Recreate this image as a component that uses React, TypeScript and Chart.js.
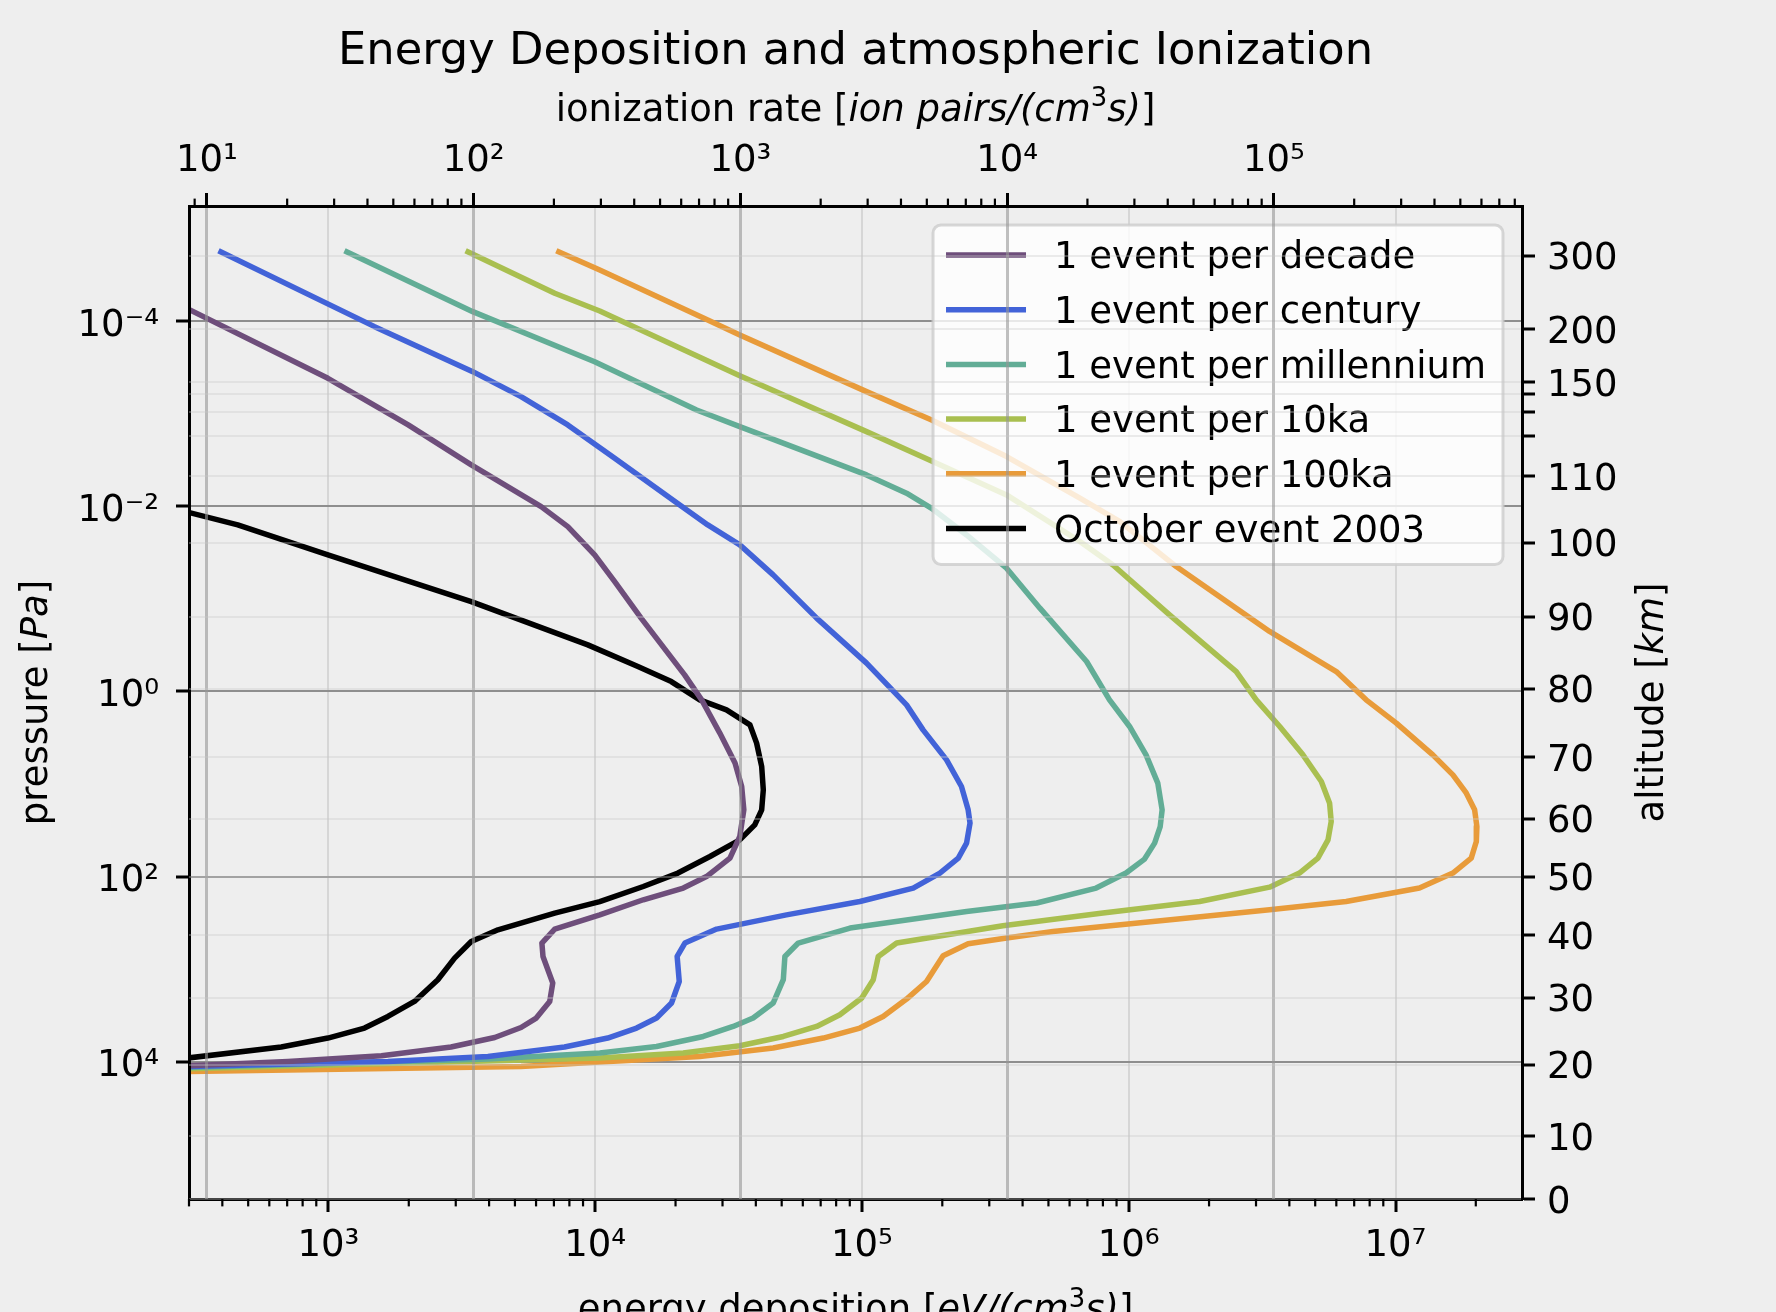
import React, { useEffect, useRef } from 'react';
import { Chart, registerables } from 'chart.js';

Chart.register(...registerables);

const FONT_FAMILY = '"DejaVu Sans", sans-serif';
const FONT_CSS = '"DejaVu Sans"';

// ---------- series ----------
const seriesLabels = [
  '1 event per decade',
  '1 event per century',
  '1 event per millennium',
  '1 event per 10ka',
  '1 event per 100ka',
  'October event 2003',
];
const seriesColors = ['#6e4e7b', '#4263d8', '#62ad96', '#a9bf50', '#e89b3a', '#000000'];

const decadeEnergy = [107, 297, 995, 1990, 3430, 6270, 7890, 9950, 11830, 14860, 21630, 25060, 29310, 33420, 35400, 36060, 34830, 31990, 26120, 21380, 15140, 10400, 7050, 6310, 6370, 6930, 6750, 6010, 5270, 4200, 2880, 1580, 705, 297, 139];
const decadePressure = [1.73e-5, 7.38e-5, 4.14e-4, 1.32e-3, 3.57e-3, 1.007e-2, 1.656e-2, 3.35e-2, 6.5e-2, 0.1614, 0.662, 1.233, 2.818, 5.94, 10.64, 19.01, 36.9, 63.1, 100, 133, 178, 259, 369, 522, 729, 1413, 2234, 3373, 4266, 5470, 6934, 8610, 9930, 11040, 11610];

const centuryEnergy = [387, 1489, 3475, 5270, 7890, 11830, 20750, 26420, 34830, 46450, 67610, 104000, 146900, 169400, 207500, 236000, 250000, 254100, 246600, 229600, 195900, 155600, 98200, 52120, 28510, 21680, 20280, 20650, 19320, 16980, 14290, 11140, 7670, 3960, 1670, 297, 139];
const centuryPressure = [1.734e-5, 1.146e-4, 3.51e-4, 6.53e-4, 1.32e-3, 3.03e-3, 9.66e-3, 1.589e-2, 2.61e-2, 5.51e-2, 0.1614, 0.494, 1.396, 2.6, 5.48, 10.64, 19.01, 26.4, 43.5, 63.1, 91.6, 133, 186, 259, 369, 522, 729, 1358, 2323, 3373, 4325, 5546, 6934, 8770, 9930, 11250, 11610];

const millenniumEnergy = [1148, 3475, 9950, 23990, 34830, 104000, 146900, 182400, 246600, 348300, 464500, 695000, 847000, 1.007e6, 1.161e6, 1.285e6, 1.334e6, 1.312e6, 1.25e6, 1.146e6, 977000, 755000, 451900, 246600, 90200, 57680, 51400, 50700, 46450, 39080, 32890, 25410, 16980, 10400, 3960, 297, 139];
const millenniumPressure = [1.734e-5, 7.89e-5, 2.74e-4, 9.1e-4, 1.377e-3, 4.58e-3, 7.22e-3, 1.05e-2, 2.04e-2, 4.66e-2, 0.126, 0.475, 1.233, 2.39, 4.84, 9.77, 19.01, 28.8, 43.5, 64.7, 91.6, 133, 193, 238, 360, 522, 729, 1300, 2323, 3373, 4159, 5333, 6839, 8050, 9350, 11530, 11910];

const tenKaEnergy = [3266, 7050, 10400, 34830, 104000, 182400, 348300, 656000, 873000, 1.422e6, 2.529e6, 3.006e6, 3.681e6, 4.498e6, 5.272e6, 5.662e6, 5.741e6, 5.585e6, 5.117e6, 4.365e6, 3.373e6, 1.845e6, 800000, 337300, 134900, 115100, 110200, 99800, 82600, 67610, 50700, 34830, 21380, 10400, 297, 139];
const tenKaPressure = [1.734e-5, 5.0e-5, 7.76e-5, 3.88e-4, 1.56e-3, 3.24e-3, 7.53e-3, 2.4e-2, 4.3e-2, 0.149, 0.61, 1.233, 2.39, 4.84, 9.4, 16.1, 25.4, 40.1, 63.1, 91.6, 130, 186, 248, 340, 522, 729, 1300, 2051, 3105, 4159, 5333, 6714, 8050, 9120, 11910, 12190];

const hundredKaEnergy = [7145, 10400, 26420, 34830, 104000, 182400, 348300, 656000, 927000, 1.507e6, 3.373e6, 5.998e6, 7.762e6, 1.007e7, 1.38e7, 1.641e7, 1.841e7, 1.98e7, 2.019e7, 2.009e7, 1.923e7, 1.641e7, 1.23e7, 6.531e6, 3.373e6, 1.897e6, 520000, 348300, 250000, 201400, 174600, 146900, 120000, 98200, 71610, 46450, 24660, 10400, 5270, 297, 139];
const hundredKaPressure = [1.734e-5, 2.8e-5, 9.7e-5, 1.41e-4, 5.77e-4, 1.167e-3, 2.9e-3, 8.17e-3, 1.46e-2, 4.48e-2, 0.225, 0.61, 1.233, 2.2, 4.84, 7.96, 12.5, 19.0, 28.8, 41.8, 63.1, 91.6, 133, 186, 228, 270, 392, 461, 532, 716, 1358, 2104, 3243, 4325, 5546, 7112, 8770, 10070, 11250, 12740, 12900];

const octoberEnergy = [139, 297, 457, 995, 3430, 9380, 14450, 19280, 24660, 31050, 38020, 40270, 42070, 42660, 42070, 39630, 34830, 26920, 20420, 15140, 10400, 7050, 4320, 3430, 2970, 2570, 2100, 1670, 1365, 995, 665, 297, 139];
const octoberPressure = [6.65e-3, 1.159e-2, 1.589e-2, 3.35e-2, 0.107, 0.314, 0.538, 0.782, 1.233, 1.581, 2.296, 3.614, 6.47, 11.56, 19.01, 27.6, 40.1, 60.7, 91.6, 128, 186, 248, 376, 502, 759, 1300, 2234, 3243, 4325, 5546, 6934, 9120, 10260];

const seriesEnergy = [decadeEnergy, centuryEnergy, millenniumEnergy, tenKaEnergy, hundredKaEnergy, octoberEnergy];
const seriesPressure = [decadePressure, centuryPressure, millenniumPressure, tenKaPressure, hundredKaPressure, octoberPressure];

// ---------- axes ----------
const energyMin = 300;
const energyMax = 2.98e7;
const eVPerIonPair = 35;
const pressureMin = 5.7e-6;
const pressureMax = 3.04e5;

const energyMajorTicks = [1e3, 1e4, 1e5, 1e6, 1e7];
const energyTickLabels = ['10³', '10⁴', '10⁵', '10⁶', '10⁷'];
const ionMajorTicks = [1e1, 1e2, 1e3, 1e4, 1e5];
const ionTickLabels = ['10¹', '10²', '10³', '10⁴', '10⁵'];
const pressureTicks = [1e-4, 1e-2, 1, 1e2, 1e4];
const pressureTickLabels = ['10⁻⁴', '10⁻²', '10⁰', '10²', '10⁴'];

const altitudeTicks = [300, 200, 150, 140, 130, 120, 110, 100, 90, 80, 70, 60, 50, 40, 30, 20, 10, 0];
const altitudeTickLabels = ['300', '200', '150', '', '', '', '110', '100', '90', '80', '70', '60', '50', '40', '30', '20', '10', '0'];
const altitudePressures = [1.954e-5, 1.23e-4, 4.59e-4, 6.11e-4, 9.57e-4, 1.738e-3, 4.7e-3, 2.48e-2, 0.156, 0.938, 5.15, 23.8, 100.5, 430, 2037, 10770, 63800, 3.04e5];

const titleText = 'Energy Deposition and atmospheric Ionization';

type Run = { text: string; italic?: boolean; sup?: boolean };
const topAxisTitle: Run[] = [
  { text: 'ionization rate [' },
  { text: 'ion pairs/(cm', italic: true },
  { text: '3', sup: true },
  { text: 's)', italic: true },
  { text: ']' },
];
const bottomAxisTitle: Run[] = [
  { text: 'energy deposition [' },
  { text: 'eV/(cm', italic: true },
  { text: '3', sup: true },
  { text: 's)', italic: true },
  { text: ']' },
];
const leftAxisTitle: Run[] = [{ text: 'pressure [' }, { text: 'Pa', italic: true }, { text: ']' }];
const rightAxisTitle: Run[] = [{ text: 'altitude [' }, { text: 'km', italic: true }, { text: ']' }];

// ---------- helpers ----------
function makeLogTicks(min: number, max: number) {
  const out: { value: number; major: boolean }[] = [];
  const e0 = Math.floor(Math.log10(min));
  const e1 = Math.ceil(Math.log10(max));
  for (let e = e0; e <= e1; e++) {
    for (let m = 1; m <= 9; m++) {
      const v = m * Math.pow(10, e);
      if (v >= min * 0.99999 && v <= max * 1.00001) out.push({ value: v, major: m === 1 });
    }
  }
  return out;
}

function labelFromList(v: number, values: number[], labels: string[]) {
  const idx = values.findIndex((m) => Math.abs(Math.log10(m) - Math.log10(v)) < 1e-6);
  return idx >= 0 ? labels[idx] : '';
}

function drawRuns(ctx: CanvasRenderingContext2D, runs: Run[], cx: number, baseline: number, size: number) {
  const fontFor = (r: Run) => `${r.italic ? 'italic ' : ''}${r.sup ? size * 0.7 : size}px ${FONT_CSS}`;
  let total = 0;
  const widths: number[] = [];
  for (const r of runs) {
    ctx.font = fontFor(r);
    const w = ctx.measureText(r.text).width;
    widths.push(w);
    total += w;
  }
  let x = cx - total / 2;
  ctx.textAlign = 'left';
  ctx.textBaseline = 'alphabetic';
  runs.forEach((r, i) => {
    ctx.font = fontFor(r);
    ctx.fillText(r.text, x, baseline - (r.sup ? size * 0.38 : 0));
    x += widths[i];
  });
}

const TICK_FONT = { family: FONT_FAMILY, size: 37 };
const TRANSPARENT = 'rgba(0,0,0,0)';

const backgroundPlugin = {
  id: 'figureBackground',
  beforeDraw(chart: any) {
    const { ctx, width, height } = chart;
    ctx.save();
    ctx.fillStyle = '#eeeeee';
    ctx.fillRect(0, 0, width, height);
    ctx.restore();
  },
};

const legendPlugin = {
  id: 'boxLegend',
  afterDatasetsDraw(chart: any) {
    const { ctx, chartArea } = chart;
    const datasets = chart.data.datasets;
    ctx.save();
    ctx.font = `37px ${FONT_CSS}`;
    const maxW = Math.max(...datasets.map((d: any) => ctx.measureText(d.label).width));
    const rowH = 54.7;
    const w = 121 + maxW + 17;
    const h = 30 + rowH * (datasets.length - 1) + 36;
    const x0 = chartArea.right - 19 - w;
    const y0 = chartArea.top + 19;
    ctx.beginPath();
    ctx.roundRect(x0, y0, w, h, 8);
    ctx.fillStyle = 'rgba(255,255,255,0.8)';
    ctx.fill();
    ctx.strokeStyle = 'rgba(204,204,204,0.8)';
    ctx.lineWidth = 3;
    ctx.stroke();
    datasets.forEach((d: any, i: number) => {
      const cy = y0 + 30 + i * rowH;
      ctx.strokeStyle = d.borderColor;
      ctx.lineWidth = 5.5;
      ctx.lineCap = 'butt';
      ctx.beginPath();
      ctx.moveTo(x0 + 13, cy);
      ctx.lineTo(x0 + 93, cy);
      ctx.stroke();
      ctx.fillStyle = '#000';
      ctx.textAlign = 'left';
      ctx.textBaseline = 'alphabetic';
      ctx.fillText(d.label, x0 + 121, cy + 13.3);
    });
    ctx.restore();
  },
};

const decorPlugin = {
  id: 'decor',
  afterDraw(chart: any) {
    const { ctx, chartArea } = chart;
    const { x, x2 } = chart.scales;
    ctx.save();
    // minor tick marks
    ctx.strokeStyle = '#000';
    ctx.lineWidth = 2.2;
    const pairs: [any, number, number][] = [
      [x, chartArea.bottom, 1],
      [x2, chartArea.top, -1],
    ];
    for (const [scale, edge, dir] of pairs) {
      for (const t of scale.ticks) {
        if (t.major) continue;
        const px = scale.getPixelForValue(t.value);
        ctx.beginPath();
        ctx.moveTo(px, edge);
        ctx.lineTo(px, edge + dir * 7.4);
        ctx.stroke();
      }
    }
    // titles
    ctx.fillStyle = '#000';
    const cx = (chartArea.left + chartArea.right) / 2;
    const cy = (chartArea.top + chartArea.bottom) / 2;
    drawRuns(ctx, [{ text: titleText }], cx, chartArea.top - 142.5, 44.8);
    drawRuns(ctx, topAxisTitle, cx, chartArea.top - 85.5, 37);
    drawRuns(ctx, bottomAxisTitle, cx, chartArea.bottom + 122, 37);
    ctx.save();
    ctx.translate(chartArea.left - 142.3, cy);
    ctx.rotate(-Math.PI / 2);
    drawRuns(ctx, leftAxisTitle, 0, 0, 37);
    ctx.restore();
    ctx.save();
    ctx.translate(chartArea.right + 141, cy);
    ctx.rotate(-Math.PI / 2);
    drawRuns(ctx, rightAxisTitle, 0, 0, 37);
    ctx.restore();
    ctx.restore();
  },
};

export default function App() {
  const canvasRef = useRef<HTMLCanvasElement | null>(null);

  useEffect(() => {
    const canvas = canvasRef.current;
    if (!canvas) return;

    const datasets = seriesLabels.map((label, i) => ({
      label,
      data: seriesEnergy[i].map((e, j) => ({ x: e, y: seriesPressure[i][j] })),
      borderColor: seriesColors[i],
      backgroundColor: seriesColors[i],
      borderWidth: 5.5,
      pointRadius: 0,
      showLine: true,
      tension: 0,
      fill: false,
      clip: 0,
      borderJoinStyle: 'round' as const,
      borderCapStyle: 'butt' as const,
      xAxisID: 'x',
      yAxisID: 'y',
    }));

    const chart = new Chart(canvas, {
      type: 'scatter',
      data: { datasets },
      plugins: [backgroundPlugin, legendPlugin, decorPlugin],
      options: {
        responsive: false,
        devicePixelRatio: 1,
        animation: false,
        events: [],
        layout: { padding: 0 },
        plugins: {
          legend: { display: false },
          tooltip: { enabled: false },
          title: { display: false },
        },
        scales: {
          x: {
            type: 'logarithmic',
            position: 'bottom',
            min: energyMin,
            max: energyMax,
            afterBuildTicks: (s: any) => {
              s.ticks = makeLogTicks(s.min, s.max);
            },
            afterFit: (s: any) => {
              s.height = 113;
            },
            ticks: {
              autoSkip: false,
              maxRotation: 0,
              minRotation: 0,
              padding: 12,
              color: '#000',
              font: TICK_FONT,
              callback: (v: any, i: number, t: any[]) =>
                t[i] && t[i].major ? labelFromList(Number(v), energyMajorTicks, energyTickLabels) : '',
            },
            grid: {
              z: -1,
              lineWidth: 2,
              color: (c: any) => (c.tick && c.tick.major ? '#d6d6d6' : TRANSPARENT),
              tickLength: 13,
              tickWidth: 3,
              tickColor: (c: any) => (c.tick && c.tick.major ? '#000' : TRANSPARENT),
            },
            border: { color: '#000', width: 3, z: 1 },
          },
          x2: {
            type: 'logarithmic',
            axis: 'x',
            position: 'top',
            min: energyMin / eVPerIonPair,
            max: energyMax / eVPerIonPair,
            afterBuildTicks: (s: any) => {
              s.ticks = makeLogTicks(s.min, s.max);
            },
            afterFit: (s: any) => {
              s.height = 206;
            },
            ticks: {
              autoSkip: false,
              maxRotation: 0,
              minRotation: 0,
              padding: 9.7,
              color: '#000',
              font: TICK_FONT,
              callback: (v: any, i: number, t: any[]) =>
                t[i] && t[i].major ? labelFromList(Number(v), ionMajorTicks, ionTickLabels) : '',
            },
            grid: {
              z: 1,
              lineWidth: 3,
              color: (c: any) => (c.tick && c.tick.major ? 'rgba(150,150,150,0.6)' : TRANSPARENT),
              tickLength: 13,
              tickWidth: 3,
              tickColor: (c: any) => (c.tick && c.tick.major ? '#000' : TRANSPARENT),
            },
            border: { color: '#000', width: 3, z: 1 },
          },
          y: {
            type: 'logarithmic',
            position: 'left',
            reverse: true,
            min: pressureMin,
            max: pressureMax,
            afterBuildTicks: (s: any) => {
              s.ticks = pressureTicks.map((v) => ({ value: v, major: true }));
            },
            afterFit: (s: any) => {
              s.width = 189;
            },
            ticks: {
              autoSkip: false,
              padding: 17,
              labelOffset: 5,
              color: '#000',
              font: TICK_FONT,
              callback: (v: any) => labelFromList(Number(v), pressureTicks, pressureTickLabels),
            },
            grid: {
              z: -1,
              lineWidth: 2,
              color: '#8e8e8e',
              tickLength: 13,
              tickWidth: 3,
              tickColor: '#000',
            },
            border: { color: '#000', width: 3, z: 1 },
          },
          y2: {
            type: 'logarithmic',
            axis: 'y',
            position: 'right',
            reverse: true,
            min: pressureMin,
            max: pressureMax,
            afterBuildTicks: (s: any) => {
              s.ticks = altitudePressures.map((v) => ({ value: v, major: true }));
            },
            afterFit: (s: any) => {
              s.width = 254;
            },
            ticks: {
              autoSkip: false,
              padding: 12,
              labelOffset: 4,
              color: '#000',
              font: TICK_FONT,
              callback: (_v: any, i: number) => altitudeTickLabels[i] ?? '',
            },
            grid: {
              z: 1,
              lineWidth: 2,
              color: 'rgba(200,200,200,0.35)',
              tickLength: 13,
              tickWidth: 3,
              tickColor: '#000',
            },
            border: { color: '#000', width: 3, z: 1 },
          },
        },
      } as any,
    });

    return () => chart.destroy();
  }, []);

  return (
    <div style={{ position: 'absolute', left: 0, top: 0, width: 1776, height: 1312, background: '#eeeeee' }}>
      <canvas ref={canvasRef} width={1776} height={1312} style={{ display: 'block', width: 1776, height: 1312 }} />
    </div>
  );
}
